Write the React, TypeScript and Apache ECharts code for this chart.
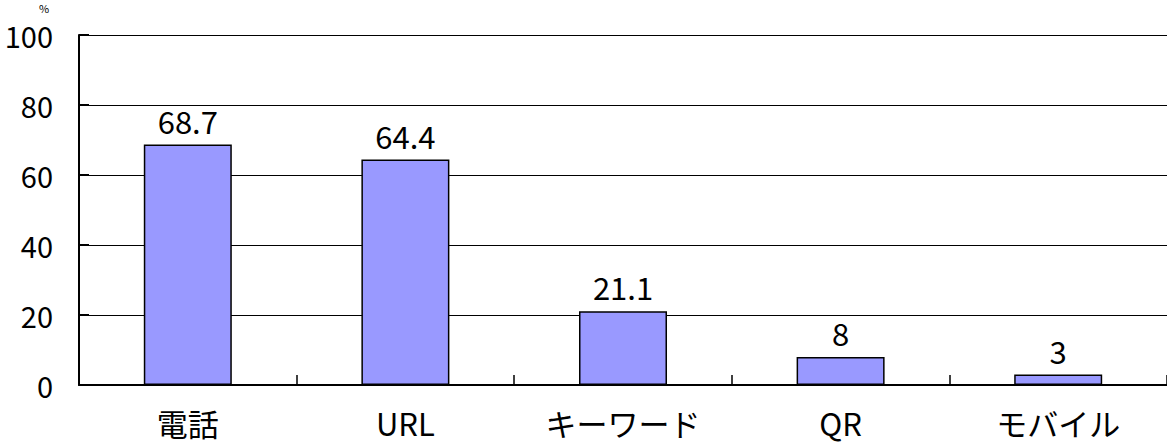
import React, { useEffect, useRef } from "react";
import * as echarts from "echarts";

const categories = ["電話", "URL", "キーワード", "QR", "モバイル"];
const values = [68.7, 64.4, 21.1, 8, 3];
const yTicks = { min: 0, max: 100, interval: 20 };
const unitLabel = "%";

const NUM_FONT = '"Noto Sans CJK JP", sans-serif';
const JP_FONT = '"Noto Sans CJK JP", sans-serif';

export default function App() {
  const ref = useRef<HTMLDivElement>(null);
  useEffect(() => {
    document.body.style.margin = "0";
    const chart = echarts.init(ref.current!, null, { renderer: "svg" });
    chart.setOption({
      animation: false,
      backgroundColor: "#ffffff",
      grid: { left: 79, right: -2, top: 35, bottom: 61, containLabel: false },
      graphic: [
        {
          type: "text",
          left: 39,
          top: 2,
          style: { text: unitLabel, fontSize: 11, lineHeight: 12, fill: "#000", fontFamily: JP_FONT },
        },
      ],
      xAxis: {
        type: "category",
        data: categories,
        axisLine: { lineStyle: { color: "#000", width: 2 } },
        axisTick: { show: true, inside: true, length: 10, alignWithLabel: false, lineStyle: { color: "#000", width: 1.5 } },
        axisLabel: { color: "#000", fontSize: 31, fontFamily: JP_FONT, margin: 22, interval: 0 },
        splitLine: { show: false },
      },
      yAxis: {
        type: "value",
        min: yTicks.min,
        max: yTicks.max,
        interval: yTicks.interval,
        axisLine: { show: true, lineStyle: { color: "#000", width: 2 } },
        axisTick: { show: true, inside: true, length: 10, lineStyle: { color: "#000", width: 2 } },
        axisLabel: { color: "#000", fontSize: 29, lineHeight: 24, fontFamily: NUM_FONT, margin: 26 },
        splitLine: { show: true, lineStyle: { color: "#000", width: 1.2 } },
      },
      series: [
        {
          type: "bar",
          data: values,
          barWidth: 88,
          itemStyle: { color: "#9999FF", borderColor: "#000", borderWidth: 1.5 },
          label: {
            show: true,
            position: "top",
            distance: 9,
            color: "#000",
            fontSize: 31,
            fontFamily: NUM_FONT,
          },
        },
      ],
    });
    return () => chart.dispose();
  }, []);
  return <div ref={ref} style={{ width: 1167, height: 446 }} />;
}
